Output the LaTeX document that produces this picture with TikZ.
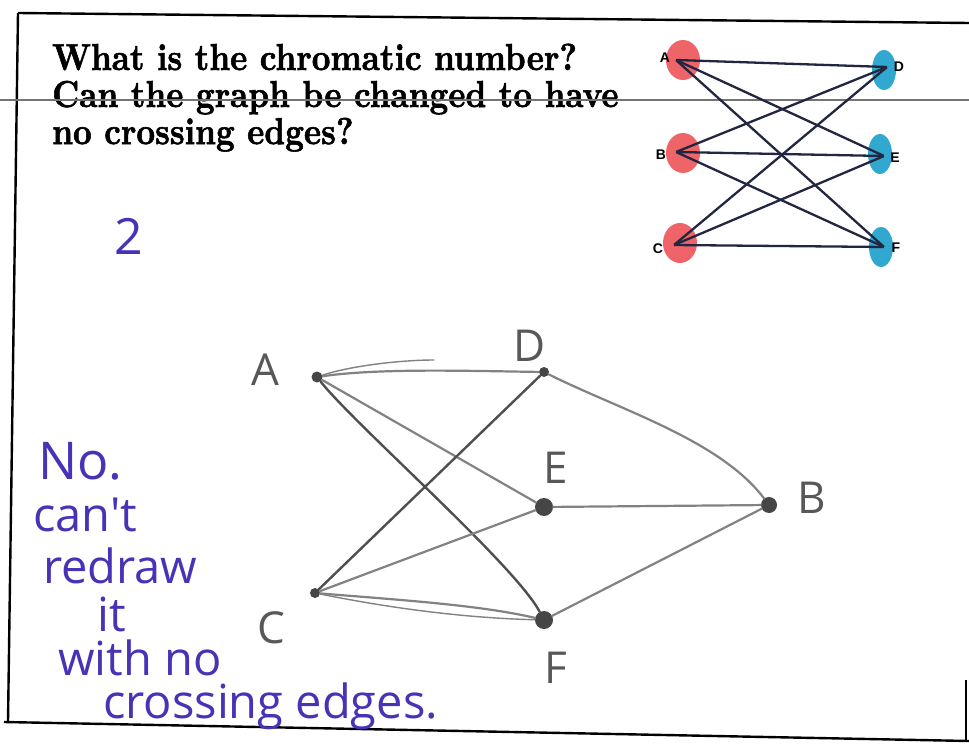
\documentclass[tikz,border=0pt]{standalone}
\usepackage{fontspec}
\newfontfamily\handfont{Open Sans}
\newfontfamily\labelfont{Liberation Sans}
\newfontfamily\printfont{lmroman10-bold.otf}[FakeBold=1.6]
\usepackage{tikz}
\usetikzlibrary{positioning,shapes.geometric}
\definecolor{ink}{RGB}{72, 50, 182}
\definecolor{pencil}{RGB}{88, 88, 88}
\definecolor{navy}{RGB}{34, 38, 64}
\definecolor{redvert}{RGB}{238, 100, 104}
\definecolor{bluevert}{RGB}{48, 168, 208}

\begin{document}
\begin{tikzpicture}[x=1pt, y=-1pt,
    redblob/.style={ellipse, fill=redvert, minimum width=34pt, minimum height=40pt, inner sep=0pt},
    blueblob/.style={ellipse, fill=bluevert, minimum width=24pt, minimum height=40pt, inner sep=0pt},
    vert/.style={inner sep=0pt, minimum size=0pt},
    vname/.style={font=\labelfont\bfseries\fontsize{14}{14}\selectfont, inner sep=0pt},
    kedge/.style={draw=navy, line width=2.3pt},
    hdot/.style={circle, fill=pencil!80!black, inner sep=0pt},
    hname/.style={font=\handfont\fontsize{44}{44}\selectfont, text=pencil, inner sep=0pt},
    hedge/.style={draw=pencil!75, line width=2.2pt, line cap=round},
    hdark/.style={draw=pencil!90!black, line width=2.4pt, line cap=round},
    note/.style={font=\handfont\fontsize{47}{47}\selectfont, text=ink, inner sep=0pt, anchor=north west},
]
\useasboundingbox[fill=white] (0,0) rectangle (969,746);

% sheet edges
\draw[black, line width=2.4pt] (18,13) -- (969,23);
\draw[black, line width=2.4pt] (18,13) -- (8,722);
\draw[black, line width=2.4pt] (4,722) -- (969,741);
\draw[black, line width=2pt] (966,680) -- (966,741);

% question
\node[anchor=base west, inner sep=0pt, font=\printfont\fontsize{32.6}{31.5}\selectfont] (question) at (52,70)
  {\scalebox{1}[1.15]{\begin{tabular}[t]{@{}l@{}}What is the chromatic number?\\Can the graph be changed to have\\no crossing edges?\end{tabular}}};
\draw[black!55, line width=1.2pt] (0,100) -- (969,100);

% small printed graph
\node[redblob]  (blobA) at (683,60)  {};
\node[redblob]  (blobB) at (683,153) {};
\node[redblob]  (blobC) at (680,243) {};
\node[blueblob] (blobD) at (884,70)  {};
\node[blueblob] (blobE) at (880,154) {};
\node[blueblob] (blobF) at (881,247) {};
\node[vert] (va) at (676,60)  {};
\node[vert] (vb) at (676,152) {};
\node[vert] (vc) at (674,245) {};
\node[vert] (vd) at (887,67)  {};
\node[vert] (ve) at (884,156) {};
\node[vert] (vf) at (884,247) {};
\foreach \l in {va,vb,vc}
  \foreach \r in {vd,ve,vf}
    \draw[kedge] (\l) -- (\r);
\node[vname] (nameA) at (665,58)  {A};
\node[vname] (nameB) at (661,155) {B};
\node[vname] (nameC) at (658,249) {C};
\node[vname] (nameD) at (899,67)  {D};
\node[vname] (nameE) at (895,158) {E};
\node[vname] (nameF) at (896,248) {F};

% answer: chromatic number
\node[note, anchor=center, font=\handfont\fontsize{50}{50}\selectfont] (answer) at (129,236) {2};

% hand drawn graph
\node[hdot, minimum size=11pt] (ha) at (317,377) {};
\node[hdot, minimum size=10pt] (hd) at (544,372) {};
\node[hdot, minimum size=18pt] (he) at (544,507) {};
\node[hdot, minimum size=16pt] (hb) at (769,505) {};
\node[hdot, minimum size=10pt] (hc) at (315,593) {};
\node[hdot, minimum size=18pt] (hf) at (544,620) {};
\coordinate (tick) at (434,360);

\draw[hedge] (ha) .. controls (380,368) and (470,371) .. (hd);
\draw[hedge, line width=1.4pt] (ha) .. controls (350,366) and (400,360) .. (tick);
\draw[hedge] (ha) -- (he);
\draw[hdark] (ha) .. controls (355,425) and (515,565) .. (hf);
\draw[hdark] (hd) -- (hc);
\draw[hedge] (hd) .. controls (620,410) and (720,440) .. (hb);
\draw[hedge] (he) -- (hc);
\draw[hedge] (he) -- (hb);
\draw[hedge] (hc) .. controls (400,600) and (480,605) .. (hf);
\draw[hedge, line width=1.4pt] (hc) .. controls (400,610) and (470,618) .. (hf);
\draw[hedge] (hf) -- (hb);

\node[hname] (labA) at (265,370) {A};
\node[hname] (labD) at (530,346) {D};
\node[hname] (labE) at (556,468) {E};
\node[hname] (labB) at (812,498) {B};
\node[hname] (labC) at (271,628) {C};
\node[hname] (labF) at (556,668) {F};

% answer: no crossing-free drawing
\node[note, font=\handfont\fontsize{52}{52}\selectfont] (no) at (38,442) {No.};
\node[note] (cant)   at (33,498)  {can't};
\node[note] (redraw) at (43,548)  {redraw};
\node[note] (it)     at (97,597)  {it};
\node[note] (with)   at (58,640)  {with no};
\node[note] (cross)  at (103,683) {crossing edges.};
\end{tikzpicture}
\end{document}
